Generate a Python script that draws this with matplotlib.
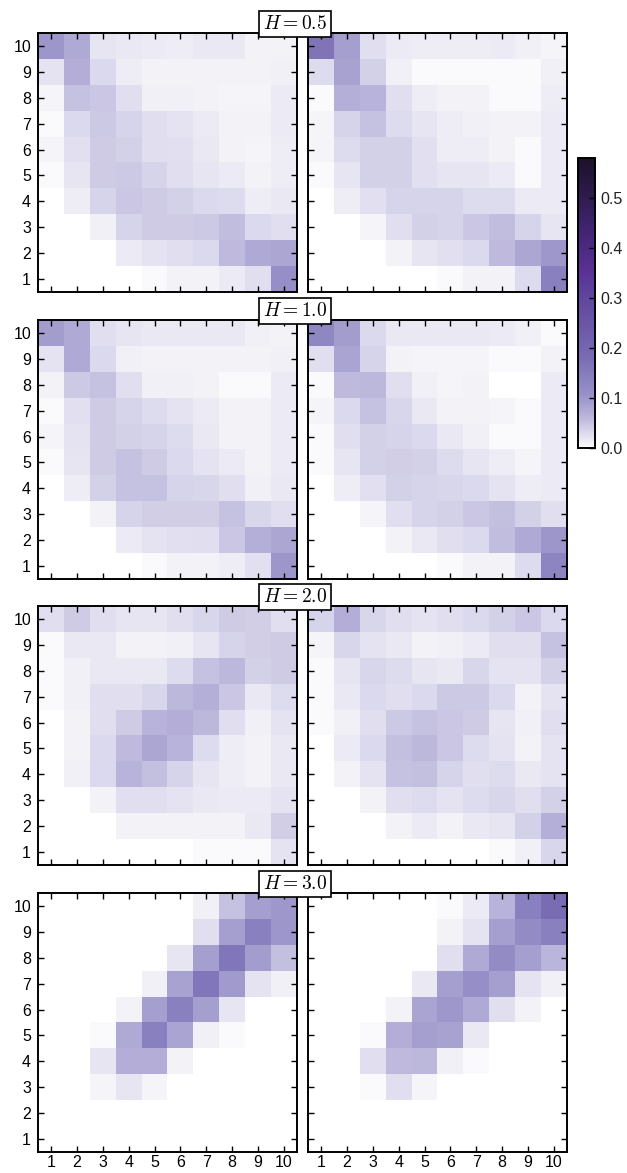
import numpy as np
import matplotlib
matplotlib.use('Agg')
import matplotlib.pyplot as plt
from matplotlib.colors import LinearSegmentedColormap

matplotlib.rcParams.update({
    'font.family': ['Liberation Sans', 'DejaVu Sans'],
    'mathtext.fontset': 'cm',
    'font.size': 11.5,
    'axes.linewidth': 1.4,
})

# ── data: rows run from y=10 (top) down to y=1, columns x=1..10 ──
x_labels = [str(i) for i in range(1, 11)]
y_labels = [str(i) for i in range(1, 11)]
h_values = ['0.5', '1.0', '2.0', '3.0']

h05_left = [
    [.100, .075, .020, .018, .014, .012, .016, .016, .009, .008],
    [.022, .072, .030, .012, .008, .008, .008, .008, .008, .010],
    [.006, .050, .047, .025, .011, .010, .009, .005, .005, .015],
    [.004, .030, .045, .036, .025, .022, .014, .007, .007, .014],
    [.005, .024, .042, .038, .025, .024, .016, .008, .006, .012],
    [.003, .020, .042, .045, .034, .025, .020, .014, .007, .012],
    [0, .012, .034, .047, .042, .037, .031, .029, .013, .017],
    [0, 0, .010, .034, .041, .041, .045, .056, .031, .025],
    [0, 0, 0, .014, .022, .025, .031, .057, .077, .081],
    [0, 0, 0, .001, .004, .008, .008, .014, .027, .110],
]
h05_right = [
    [.165, .090, .027, .015, .013, .013, .013, .014, .010, .005],
    [.028, .085, .037, .011, .004, .004, .004, .003, .003, .010],
    [.004, .068, .064, .026, .012, .008, .008, .003, .003, .012],
    [.005, .036, .052, .028, .020, .012, .011, .008, .008, .015],
    [.006, .028, .038, .038, .023, .012, .012, .007, .004, .015],
    [.004, .020, .038, .038, .024, .020, .020, .014, .004, .015],
    [0, .012, .023, .036, .036, .036, .028, .028, .014, .014],
    [0, 0, .006, .027, .038, .036, .046, .055, .034, .020],
    [0, 0, 0, .009, .020, .024, .031, .057, .080, .098],
    [0, 0, 0, 0, .002, .004, .007, .007, .028, .140],
]
h10_left = [
    [.092, .077, .025, .020, .016, .016, .016, .018, .010, .007],
    [.022, .077, .030, .010, .008, .008, .008, .008, .007, .010],
    [.008, .045, .050, .025, .011, .011, .008, .004, .004, .014],
    [.004, .024, .042, .034, .028, .022, .015, .007, .007, .014],
    [.005, .022, .041, .038, .034, .028, .018, .008, .007, .014],
    [.003, .020, .042, .051, .041, .030, .022, .015, .007, .014],
    [0, .012, .038, .051, .051, .036, .033, .027, .011, .018],
    [0, 0, .009, .034, .040, .040, .040, .051, .033, .027],
    [0, 0, 0, .014, .022, .024, .027, .047, .069, .081],
    [0, 0, 0, .001, .004, .007, .007, .012, .024, .100],
]
h10_right = [
    [.125, .092, .030, .018, .016, .016, .016, .014, .010, .004],
    [.026, .083, .034, .007, .005, .005, .005, .003, .003, .009],
    [.004, .057, .061, .025, .011, .005, .007, .002, .002, .014],
    [.006, .031, .052, .032, .018, .009, .007, .005, .003, .015],
    [.004, .025, .037, .034, .030, .018, .011, .003, .003, .015],
    [.004, .020, .038, .040, .038, .028, .020, .012, .005, .015],
    [0, .012, .024, .038, .034, .033, .031, .022, .012, .015],
    [0, 0, .005, .025, .034, .038, .046, .054, .038, .025],
    [0, 0, 0, .008, .018, .025, .031, .055, .077, .100],
    [0, 0, 0, 0, .002, .004, .008, .007, .028, .130],
]
h20_left = [
    [.027, .041, .025, .020, .020, .025, .033, .041, .040, .025],
    [.003, .016, .016, .007, .007, .011, .020, .036, .040, .041],
    [.003, .011, .018, .018, .018, .028, .050, .060, .038, .041],
    [.003, .011, .025, .025, .033, .060, .068, .047, .018, .028],
    [0, .007, .025, .041, .064, .071, .061, .025, .010, .022],
    [0, .007, .031, .058, .080, .064, .028, .012, .007, .018],
    [0, .010, .031, .064, .054, .036, .020, .013, .008, .018],
    [0, 0, .007, .027, .027, .022, .018, .014, .014, .022],
    [0, 0, 0, .007, .007, .007, .009, .009, .018, .040],
    [0, 0, 0, 0, 0, 0, .003, .003, .003, .022],
]
h20_right = [
    [.036, .071, .033, .027, .022, .027, .031, .038, .046, .031],
    [.005, .033, .022, .018, .007, .010, .014, .025, .025, .050],
    [.003, .020, .033, .028, .020, .016, .033, .022, .022, .038],
    [.003, .018, .031, .025, .031, .045, .045, .031, .007, .022],
    [.003, .010, .025, .045, .050, .046, .041, .020, .011, .025],
    [0, .015, .031, .054, .061, .047, .028, .022, .007, .022],
    [0, .007, .022, .051, .054, .036, .025, .028, .018, .022],
    [0, 0, .009, .025, .028, .022, .028, .033, .025, .038],
    [0, 0, 0, .007, .014, .009, .016, .020, .038, .068],
    [0, 0, 0, 0, 0, .002, .002, .003, .010, .033],
]
h30_left = [
    [0, 0, 0, 0, 0, 0, .011, .052, .090, .098],
    [0, 0, 0, 0, 0, .002, .025, .090, .140, .100],
    [0, 0, 0, 0, .002, .020, .090, .160, .092, .054],
    [0, 0, 0, 0, .011, .084, .160, .095, .022, .011],
    [0, 0, 0, .007, .090, .140, .090, .020, .002, 0],
    [0, 0, .003, .075, .140, .083, .011, .003, 0, 0],
    [0, 0, .020, .071, .071, .007, 0, 0, 0, 0],
    [0, 0, .005, .020, .005, 0, 0, 0, 0, 0],
    [0, 0, 0, 0, 0, 0, 0, 0, 0, 0],
    [0, 0, 0, 0, 0, 0, 0, 0, 0, 0],
]
h30_right = [
    [0, 0, 0, 0, 0, .003, .014, .064, .140, .180],
    [0, 0, 0, 0, 0, .009, .022, .090, .120, .140],
    [0, 0, 0, 0, 0, .025, .077, .120, .090, .062],
    [0, 0, 0, .002, .016, .090, .110, .090, .022, .011],
    [0, 0, 0, .009, .083, .098, .077, .025, .009, .002],
    [0, 0, .003, .071, .090, .084, .016, 0, 0, 0],
    [0, 0, .025, .057, .061, .010, .003, 0, 0, 0],
    [0, 0, .003, .025, .005, 0, 0, 0, 0, 0],
    [0, 0, 0, 0, 0, 0, 0, 0, 0, 0],
    [0, 0, 0, 0, 0, 0, 0, 0, 0, 0],
]
panels = [(h05_left, h05_right), (h10_left, h10_right),
          (h20_left, h20_right), (h30_left, h30_right)]

# colour scale (value -> colour)
VMAX = 0.58
cmap_stops = [
    (0.000, '#ffffff'), (0.005, '#f5f5f9'), (0.010, '#f0eff6'),
    (0.020, '#e6e4f2'), (0.030, '#dbd9ed'), (0.040, '#d0cde6'),
    (0.050, '#c6c2e1'), (0.064, '#b8b3da'), (0.080, '#aca6d3'),
    (0.095, '#a09acd'), (0.110, '#968fc7'), (0.140, '#8981bf'),
    (0.180, '#7a6cb3'), (0.250, '#6a55a6'), (0.300, '#5f479d'),
    (0.350, '#5a3296'), (0.420, '#47267a'), (0.500, '#2f1c50'),
    (0.580, '#1c1129'),
]
cmap = LinearSegmentedColormap.from_list(
    'purp', [(v / VMAX, c) for v, c in cmap_stops])

W, H = 627, 1173
fig = plt.figure(figsize=(W / 100, H / 100), dpi=100)

col_x = [38, 308]
row_top = [33, 320, 606, 893]
size = 259

for r, (left, right) in enumerate(panels):
    for c, data in enumerate([left, right]):
        ax = fig.add_axes([col_x[c] / W, 1 - (row_top[r] + size) / H,
                           size / W, size / H])
        im = ax.imshow(np.array(data), cmap=cmap, vmin=0, vmax=VMAX,
                       origin='upper', extent=(0.5, 10.5, 0.5, 10.5),
                       interpolation='nearest', aspect='auto')
        ax.set_xticks(range(1, 11))
        ax.set_yticks(range(1, 11))
        ax.tick_params(direction='in', length=4, width=1, top=True, right=True,
                       labelsize=11.5, pad=5)
        ax.tick_params(axis='x', pad=2.5)
        if c == 0:
            ax.set_yticklabels(y_labels)
        else:
            ax.set_yticklabels([])
        if r == 3:
            ax.set_xticklabels(x_labels)
        else:
            ax.set_xticklabels([])
    fig.text(295 / W, 1 - (row_top[r] - 9) / H, f'$H = {h_values[r]}$',
             ha='center', va='center', fontsize=14, zorder=10,
             bbox=dict(boxstyle='square,pad=0.22', facecolor='white',
                       edgecolor='black', linewidth=1.2))

cax = fig.add_axes([578 / W, 1 - 448 / H, 17 / W, 290 / H])
cb = fig.colorbar(im, cax=cax)
cb.set_ticks([0.0, 0.1, 0.2, 0.3, 0.4, 0.5])
cb.ax.tick_params(direction='in', length=4, width=1, labelsize=11.5,
                  labelcolor='#222222', pad=4)
cb.outline.set_linewidth(1.4)

fig.savefig('out.png', dpi=100)
